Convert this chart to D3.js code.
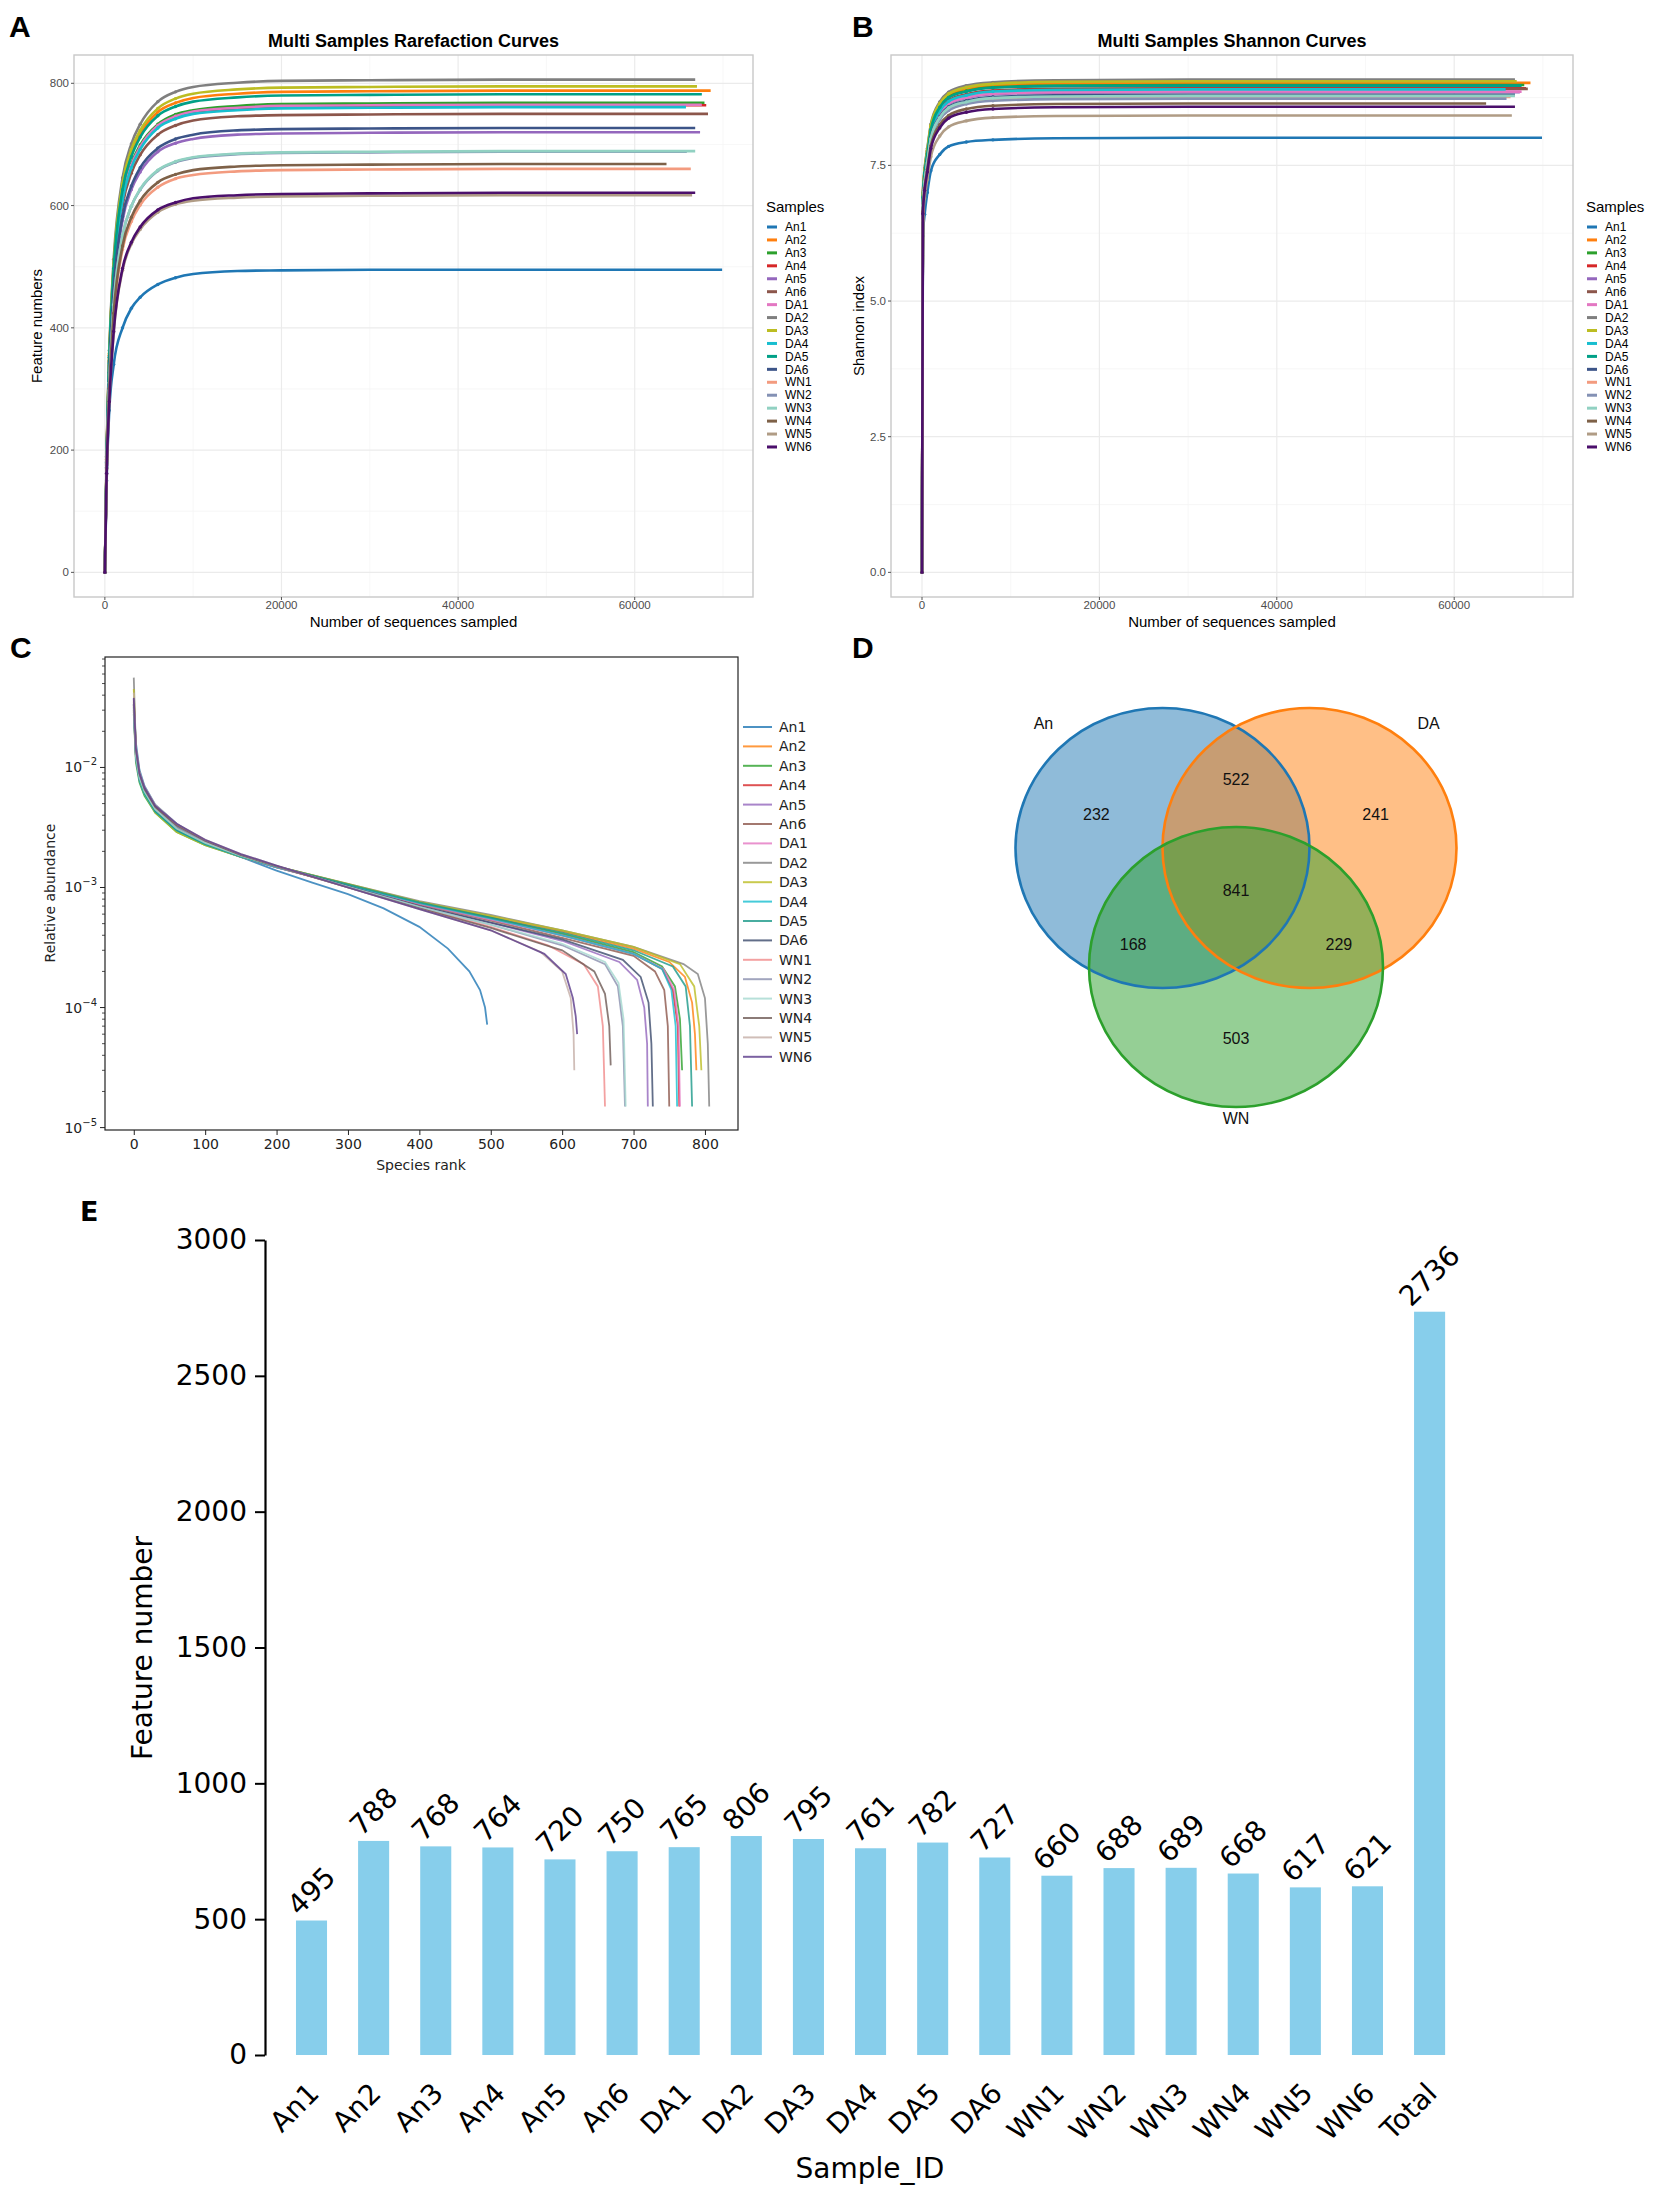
<!DOCTYPE html>
<html><head><meta charset="utf-8">
<script src="https://cdn.jsdelivr.net/npm/d3@7"></script>
<style>body{margin:0;background:#fff} svg{display:block}</style>
</head><body>
<svg id="fig" width="1654" height="2196"></svg>
<script>
// ---------------- DATA ----------------
const samples = ["An1","An2","An3","An4","An5","An6","DA1","DA2","DA3","DA4","DA5","DA6","WN1","WN2","WN3","WN4","WN5","WN6"];
const featureCounts = [495,788,768,764,720,750,765,806,795,761,782,727,660,688,689,668,617,621];
const barCategories = samples.concat(["Total"]);
const barValues = featureCounts.concat([2736]);

// Panel A: rarefaction (sequencing depths and observed feature numbers; last value at seqEnds)
const seqDepths = [0,200,500,1000,2000,3000,4000,6000,8000,10000,15000,20000,30000,45000];
const seqEnds = [69900,68600,67900,68100,67400,68300,67600,66850,67050,65800,67600,66850,66350,65900,66850,63600,66500,66850];
const rareValues = [
  [0,150,265,340,400,432,450,471,482,488,493,494,495,495,495],
  [0,185,355,500,630,686,717,753,768,776,783,786,787,788,788],
  [0,182,346,488,614,668,699,733,749,756,763,766,767,768,768],
  [0,181,344,485,611,665,695,730,745,753,759,762,763,764,764],
  [0,175,324,457,576,626,655,688,702,709,716,718,719,720,720],
  [0,178,338,476,600,653,683,716,731,739,746,748,749,750,750],
  [0,181,344,486,612,666,696,731,746,754,760,763,764,765,765],
  [0,190,363,512,645,701,733,770,786,794,801,804,805,806,806],
  [0,188,358,505,636,692,723,759,775,783,790,793,794,795,795],
  [0,180,342,483,609,662,692,727,742,750,756,759,760,761,761],
  [0,184,352,497,626,680,712,747,762,770,777,780,781,782,782],
  [0,176,327,462,582,632,662,694,709,716,723,725,726,727,727],
  [0,168,297,419,528,574,601,630,644,650,656,658,659,660,660],
  [0,172,310,437,550,599,626,657,671,678,684,686,687,688,688],
  [0,172,310,438,551,599,627,658,672,679,685,687,688,689,689],
  [0,170,301,424,534,581,608,638,651,658,664,666,667,668,668],
  [0,160,278,392,494,537,561,589,602,608,613,615,616,617,617],
  [0,162,279,394,497,540,565,593,605,612,617,619,620,621,621]
];

// Panel B: Shannon index
const shannonDepths = [0,100,300,600,1000,2000,3000,5000,8000,15000,30000,50000];
const shannonValues = [
  [0,6.20,6.60,7.00,7.40,7.70,7.85,7.93,7.97,8.00,8.01,8.01,8.01],
  [0,6.95,7.40,7.76,8.21,8.61,8.79,8.91,8.97,9.01,9.02,9.02,9.02],
  [0,6.91,7.36,7.72,8.17,8.58,8.76,8.87,8.94,8.97,8.98,8.98,8.98],
  [0,6.87,7.31,7.67,8.12,8.52,8.70,8.81,8.88,8.91,8.92,8.92,8.92],
  [0,6.81,7.26,7.61,8.05,8.45,8.63,8.74,8.81,8.84,8.85,8.85,8.85],
  [0,6.86,7.31,7.66,8.11,8.51,8.69,8.80,8.87,8.90,8.91,8.91,8.91],
  [0,6.82,7.27,7.62,8.06,8.46,8.64,8.75,8.82,8.85,8.86,8.86,8.86],
  [0,6.99,7.45,7.81,8.26,8.67,8.85,8.97,9.03,9.07,9.08,9.08,9.08],
  [0,6.97,7.42,7.78,8.24,8.64,8.82,8.94,9.00,9.04,9.05,9.05,9.05],
  [0,6.85,7.30,7.65,8.10,8.50,8.68,8.79,8.86,8.89,8.90,8.90,8.90],
  [0,6.91,7.36,7.71,8.16,8.57,8.75,8.86,8.93,8.96,8.97,8.97,8.97],
  [0,6.78,7.22,7.57,8.01,8.40,8.58,8.69,8.76,8.79,8.80,8.80,8.80],
  [0,6.75,7.18,7.53,7.97,8.37,8.54,8.65,8.72,8.75,8.76,8.76,8.76],
  [0,6.72,7.16,7.51,7.94,8.34,8.51,8.63,8.69,8.72,8.73,8.73,8.73],
  [0,6.76,7.20,7.55,7.99,8.38,8.56,8.67,8.74,8.77,8.78,8.78,8.78],
  [0,6.65,7.08,7.43,7.86,8.25,8.42,8.54,8.60,8.63,8.64,8.64,8.64],
  [0,6.48,6.90,7.24,7.66,8.04,8.21,8.32,8.38,8.41,8.42,8.42,8.42],
  [0,6.61,7.04,7.38,7.81,8.19,8.37,8.48,8.54,8.57,8.58,8.58,8.58]
];

// Panel C: rank-abundance [rank, relative abundance]
const rankAbundance = [
  [[0,3.4e-2],[3,1.6e-2],[8,9.5e-3],[15,7.0e-3],[30,4.9e-3],[60,3.4e-3],[100,2.4e-3],[150,1.8e-3],[200,1.38e-3],[250,1.1e-3],[300,8.8e-4],[350,6.7e-4],[400,4.7e-4],[440,3.1e-4],[470,2.0e-4],[485,1.4e-4],[492,1.0e-4],[495,7.2e-5]],
  [[0,3.0e-2],[3,1.2e-2],[8,7.8e-3],[15,6.0e-3],[30,4.3e-3],[60,3.0e-3],[100,2.3e-3],[150,1.82e-3],[200,1.5e-3],[300,1.06e-3],[400,7.5e-4],[500,5.7e-4],[600,4.3e-4],[700,3.1e-4],[750,2.4e-4],[772,1.8e-4],[782,1.1e-4],[786,6e-5],[788,3e-5]],
  [[0,2.8e-2],[3,1.1e-2],[8,7.5e-3],[15,5.8e-3],[30,4.2e-3],[60,2.9e-3],[100,2.25e-3],[150,1.8e-3],[200,1.48e-3],[300,1.04e-3],[400,7.4e-4],[500,5.6e-4],[600,4.1e-4],[700,2.9e-4],[740,2.2e-4],[758,1.5e-4],[765,8e-5],[768,3e-5]],
  [[0,3.3e-2],[3,1.3e-2],[8,8e-3],[15,6.2e-3],[30,4.4e-3],[60,3.1e-3],[100,2.3e-3],[150,1.8e-3],[200,1.47e-3],[300,1.03e-3],[400,7.3e-4],[500,5.5e-4],[600,4.0e-4],[700,2.8e-4],[740,2.1e-4],[755,1.4e-4],[762,7e-5],[764,1.5e-5]],
  [[0,3.1e-2],[3,1.25e-2],[8,8.2e-3],[15,6.4e-3],[30,4.6e-3],[60,3.2e-3],[100,2.4e-3],[150,1.85e-3],[200,1.5e-3],[300,1.02e-3],[400,7.0e-4],[500,5.1e-4],[600,3.6e-4],[680,2.4e-4],[705,1.7e-4],[715,1.0e-4],[719,5e-5],[720,1.5e-5]],
  [[0,3.5e-2],[3,1.3e-2],[8,8.3e-3],[15,6.3e-3],[30,4.5e-3],[60,3.1e-3],[100,2.35e-3],[150,1.82e-3],[200,1.48e-3],[300,1.03e-3],[400,7.2e-4],[500,5.3e-4],[600,3.8e-4],[700,2.7e-4],[730,2.0e-4],[743,1.4e-4],[748,7e-5],[750,1.5e-5]],
  [[0,2.9e-2],[3,1.2e-2],[8,7.9e-3],[15,6.1e-3],[30,4.3e-3],[60,3.0e-3],[100,2.3e-3],[150,1.8e-3],[200,1.47e-3],[300,1.03e-3],[400,7.3e-4],[500,5.4e-4],[600,4.0e-4],[700,2.8e-4],[742,2.1e-4],[757,1.4e-4],[763,7e-5],[765,1.5e-5]],
  [[0,5.6e-2],[3,1.4e-2],[8,8.4e-3],[15,6.2e-3],[30,4.3e-3],[60,3.0e-3],[100,2.3e-3],[150,1.82e-3],[200,1.5e-3],[300,1.07e-3],[400,7.7e-4],[500,5.9e-4],[600,4.4e-4],[700,3.2e-4],[770,2.3e-4],[790,1.9e-4],[800,1.2e-4],[804,5e-5],[806,1.5e-5]],
  [[0,4.5e-2],[3,1.3e-2],[8,8e-3],[15,6e-3],[30,4.2e-3],[60,2.9e-3],[100,2.25e-3],[150,1.8e-3],[200,1.5e-3],[300,1.07e-3],[400,7.6e-4],[500,5.8e-4],[600,4.4e-4],[700,3.2e-4],[765,2.3e-4],[785,1.5e-4],[792,7e-5],[795,3e-5]],
  [[0,3.0e-2],[3,1.2e-2],[8,7.8e-3],[15,6.0e-3],[30,4.3e-3],[60,3.0e-3],[100,2.3e-3],[150,1.8e-3],[200,1.47e-3],[300,1.04e-3],[400,7.4e-4],[500,5.5e-4],[600,4.0e-4],[700,2.8e-4],[740,2.1e-4],[753,1.4e-4],[759,7e-5],[761,1.5e-5]],
  [[0,3.2e-2],[3,1.25e-2],[8,8e-3],[15,6.1e-3],[30,4.3e-3],[60,3.0e-3],[100,2.3e-3],[150,1.82e-3],[200,1.5e-3],[300,1.06e-3],[400,7.5e-4],[500,5.6e-4],[600,4.2e-4],[700,3.0e-4],[755,2.2e-4],[773,1.5e-4],[779,7e-5],[782,1.5e-5]],
  [[0,3.4e-2],[3,1.35e-2],[8,8.6e-3],[15,6.5e-3],[30,4.6e-3],[60,3.2e-3],[100,2.4e-3],[150,1.85e-3],[200,1.5e-3],[300,1.02e-3],[400,7.0e-4],[500,5.1e-4],[600,3.7e-4],[685,2.5e-4],[710,1.8e-4],[721,1.1e-4],[725,5e-5],[727,1.5e-5]],
  [[0,3.6e-2],[3,1.4e-2],[8,8.8e-3],[15,6.6e-3],[30,4.7e-3],[60,3.3e-3],[100,2.4e-3],[150,1.85e-3],[200,1.5e-3],[300,1.0e-3],[400,6.8e-4],[500,4.7e-4],[580,3.3e-4],[630,2.3e-4],[650,1.5e-4],[657,7e-5],[660,1.5e-5]],
  [[0,3.3e-2],[3,1.3e-2],[8,8.4e-3],[15,6.4e-3],[30,4.5e-3],[60,3.2e-3],[100,2.4e-3],[150,1.85e-3],[200,1.5e-3],[300,1.01e-3],[400,6.9e-4],[500,4.9e-4],[600,3.3e-4],[660,2.3e-4],[678,1.5e-4],[685,7e-5],[688,1.5e-5]],
  [[0,3.1e-2],[3,1.25e-2],[8,8.2e-3],[15,6.3e-3],[30,4.5e-3],[60,3.1e-3],[100,2.35e-3],[150,1.83e-3],[200,1.5e-3],[300,1.01e-3],[400,6.9e-4],[500,4.9e-4],[600,3.4e-4],[660,2.4e-4],[679,1.6e-4],[686,8e-5],[689,1.5e-5]],
  [[0,3.7e-2],[3,1.4e-2],[8,8.8e-3],[15,6.6e-3],[30,4.7e-3],[60,3.3e-3],[100,2.45e-3],[150,1.86e-3],[200,1.5e-3],[300,1.0e-3],[400,6.7e-4],[500,4.6e-4],[600,3.0e-4],[645,2.0e-4],[660,1.3e-4],[666,7e-5],[668,3.3e-5]],
  [[0,4.2e-2],[3,1.5e-2],[8,9.2e-3],[15,6.9e-3],[30,4.9e-3],[60,3.4e-3],[100,2.5e-3],[150,1.9e-3],[200,1.52e-3],[300,1.0e-3],[400,6.6e-4],[500,4.4e-4],[570,2.9e-4],[600,2.0e-4],[612,1.2e-4],[616,6e-5],[617,3e-5]],
  [[0,3.8e-2],[3,1.45e-2],[8,9e-3],[15,6.8e-3],[30,4.8e-3],[60,3.4e-3],[100,2.5e-3],[150,1.9e-3],[200,1.52e-3],[300,1.0e-3],[400,6.6e-4],[500,4.4e-4],[575,2.8e-4],[605,1.9e-4],[615,1.2e-4],[619,8.5e-5],[621,6e-5]]
];

// Panel D: Venn
const vennSets = ["An","DA","WN"];
const vennRegions = ["An","DA","WN","An&DA","An&WN","DA&WN","An&DA&WN"];
const vennValues = [232,241,503,522,168,229,841];

// tick labels
const rareXTicks = [0,20000,40000,60000];
const rareYTicks = [0,200,400,600,800];
const shannonYTicks = [0,2.5,5.0,7.5];
const rankXTicks = [0,100,200,300,400,500,600,700,800];
const rankYTicks = [1e-5,1e-4,1e-3,1e-2];
const barYTicks = [0,500,1000,1500,2000,2500,3000];

// colours
const palA = ["#1f77b4","#ff7f0e","#2ca02c","#d62728","#9467bd","#8c564b","#e377c2","#7f7f7f","#bcbd22","#17becf","#00a087","#3c5488","#f39b7f","#8491b4","#91d1c2","#7e6148","#b09c85","#4b0f6b"];
const palC = ["#1f77b4","#ff7f0e","#2ca02c","#d62728","#9467bd","#8c564b","#e377c2","#7f7f7f","#bcbd22","#17becf","#1a9988","#3b4a6b","#f08a8a","#8a8fae","#a5d8d0","#6e5a55","#c4aea6","#5a3a8a"];
const vennColors = ["#1f77b4","#ff7f0e","#2ca02c"];

// ---------------- DRAW ----------------
const svg = d3.select("#fig");
svg.append("rect").attr("width",1654).attr("height",2196).attr("fill","#fff");
const SANS = "'Liberation Sans', Arial, Helvetica, sans-serif";
const DEJA = "'DejaVu Sans', Verdana, sans-serif";

function letter(t, x, y, size, fam){
  svg.append("text").attr("x",x).attr("y",y).attr("font-family",fam||SANS)
    .attr("font-weight","bold").attr("font-size",size).attr("fill","#000").text(t);
}
letter("A", 9, 37, 30);
letter("B", 852, 37, 30);
letter("C", 10, 658, 30);
letter("D", 852, 658, 30);
letter("E", 80, 1221, 27, DEJA);

function curvePanel(o){
  const g = svg.append("g");
  const x = d3.scaleLinear().domain([-3495,73395]).range([o.x0,o.x1]);
  const y = d3.scaleLinear().domain(o.yDomain).range([o.y1,o.y0]);
  g.append("rect").attr("x",o.x0).attr("y",o.y0).attr("width",o.x1-o.x0).attr("height",o.y1-o.y0).attr("fill","#fff");
  // grid
  g.selectAll(null).data([10000,30000,50000,70000]).join("line")
    .attr("x1",d=>x(d)).attr("x2",d=>x(d)).attr("y1",o.y0).attr("y2",o.y1).attr("stroke","#f4f4f4").attr("stroke-width",0.7);
  g.selectAll(null).data(o.yMinor).join("line")
    .attr("y1",d=>y(d)).attr("y2",d=>y(d)).attr("x1",o.x0).attr("x2",o.x1).attr("stroke","#f4f4f4").attr("stroke-width",0.7);
  g.selectAll(null).data(rareXTicks).join("line")
    .attr("x1",d=>x(d)).attr("x2",d=>x(d)).attr("y1",o.y0).attr("y2",o.y1).attr("stroke","#ebebeb").attr("stroke-width",1.2);
  g.selectAll(null).data(o.yTicks).join("line")
    .attr("y1",d=>y(d)).attr("y2",d=>y(d)).attr("x1",o.x0).attr("x2",o.x1).attr("stroke","#ebebeb").attr("stroke-width",1.2);
  // curves
  const line = d3.line().x(d=>x(d[0])).y(d=>y(d[1])).curve(d3.curveMonotoneX);
  samples.forEach((s,i)=>{
    const vals = o.values[i];
    const pts = o.depths.map((d,j)=>[d, vals[j]]).concat([[seqEnds[i], vals[vals.length-1]]]);
    g.append("path").attr("d",line(pts)).attr("fill","none").attr("stroke",palA[i]).attr("stroke-width",2.6);
    g.selectAll(null).data(pts.filter(p=>p[0]<=8000)).join("circle")
      .attr("cx",p=>x(p[0])).attr("cy",p=>y(p[1])).attr("r",1.7).attr("fill",palA[i]);
  });
  // border
  g.append("rect").attr("x",o.x0).attr("y",o.y0).attr("width",o.x1-o.x0).attr("height",o.y1-o.y0)
    .attr("fill","none").attr("stroke","#c8c8c8").attr("stroke-width",1.4);
  // ticks
  g.selectAll(null).data(rareXTicks).join("line")
    .attr("x1",d=>x(d)).attr("x2",d=>x(d)).attr("y1",o.y1).attr("y2",o.y1+3).attr("stroke","#555").attr("stroke-width",1);
  g.selectAll(null).data(o.yTicks).join("line")
    .attr("y1",d=>y(d)).attr("y2",d=>y(d)).attr("x1",o.x0-3).attr("x2",o.x0).attr("stroke","#555").attr("stroke-width",1);
  g.selectAll(null).data(rareXTicks).join("text")
    .attr("x",d=>x(d)).attr("y",o.y1+12).attr("text-anchor","middle").attr("font-family",SANS).attr("font-size",11.5).attr("fill","#4d4d4d").text(d=>d);
  g.selectAll(null).data(o.yTicks).join("text")
    .attr("x",o.x0-5).attr("y",d=>y(d)).attr("dy","0.35em").attr("text-anchor","end").attr("font-family",SANS).attr("font-size",11.5).attr("fill","#4d4d4d").text(o.yFmt);
  // titles
  g.append("text").attr("x",(o.x0+o.x1)/2).attr("y",47).attr("text-anchor","middle").attr("font-family",SANS)
    .attr("font-weight","bold").attr("font-size",18).attr("fill","#000").text(o.title);
  g.append("text").attr("x",(o.x0+o.x1)/2).attr("y",627).attr("text-anchor","middle").attr("font-family",SANS)
    .attr("font-size",15).attr("fill","#000").text("Number of sequences sampled");
  g.append("text").attr("transform",`translate(${o.yTitleX},${(o.y0+o.y1)/2}) rotate(-90)`).attr("text-anchor","middle")
    .attr("font-family",SANS).attr("font-size",15).attr("fill","#000").text(o.yTitle);
  // legend
  g.append("text").attr("x",o.legendX).attr("y",212).attr("font-family",SANS).attr("font-size",15).attr("fill","#000").text("Samples");
  samples.forEach((s,i)=>{
    const ly = 227 + 12.94*i;
    g.append("line").attr("x1",o.legendX+1).attr("x2",o.legendX+11).attr("y1",ly).attr("y2",ly).attr("stroke",palA[i]).attr("stroke-width",3);
    g.append("text").attr("x",o.legendX+19).attr("y",ly).attr("dy","0.35em").attr("font-family",SANS).attr("font-size",12).attr("fill","#000").text(s);
  });
}

curvePanel({x0:74,x1:753,y0:55,y1:597,yDomain:[-40.3,846.3],yTicks:rareYTicks,yMinor:[100,300,500,700],
  yFmt:d=>d,depths:seqDepths,values:rareValues,title:"Multi Samples Rarefaction Curves",yTitle:"Feature numbers",yTitleX:42,legendX:766});
curvePanel({x0:891,x1:1573,y0:55,y1:597,yDomain:[-0.454,9.534],yTicks:shannonYTicks,yMinor:[1.25,3.75,6.25,8.75],
  yFmt:d=>d.toFixed(1),depths:shannonDepths,values:shannonValues,title:"Multi Samples Shannon Curves",yTitle:"Shannon index",yTitleX:864,legendX:1586});

// ---------- Panel C ----------
(function(){
  const g = svg.append("g");
  const x = d3.scaleLinear().domain([-40.3,846.3]).range([105,738]);
  const y = d3.scaleLog().domain([Math.pow(10,-5.02), Math.pow(10,-1.08)]).range([1130,657]);
  const line = d3.line().x(d=>x(d[0])).y(d=>y(d[1]));
  rankAbundance.forEach((arr,i)=>{
    g.append("path").attr("d",line(arr)).attr("fill","none").attr("stroke",palC[i]).attr("stroke-opacity",0.8).attr("stroke-width",1.8);
  });
  g.append("rect").attr("x",105).attr("y",657).attr("width",633).attr("height",473).attr("fill","none").attr("stroke","#222").attr("stroke-width",1.2);
  const xa = g.append("g").attr("transform","translate(0,1130)").call(d3.axisBottom(x).tickValues(rankXTicks).tickSize(5).tickPadding(4).tickSizeOuter(0));
  xa.select(".domain").remove();
  xa.selectAll("text").attr("font-family",DEJA).attr("font-size",14).attr("fill","#222");
  xa.selectAll("line").attr("stroke","#222");
  const minor = y.ticks().filter(v=>rankYTicks.indexOf(v)<0 && Math.abs(Math.log10(v)-Math.round(Math.log10(v)))>1e-6);
  g.selectAll(null).data(minor).join("line").attr("x1",102).attr("x2",105).attr("y1",d=>y(d)).attr("y2",d=>y(d)).attr("stroke","#222").attr("stroke-width",0.8);
  g.selectAll(null).data(rankYTicks).join("line").attr("x1",100).attr("x2",105).attr("y1",d=>y(d)).attr("y2",d=>y(d)).attr("stroke","#222").attr("stroke-width",1);
  const yl = g.selectAll(null).data(rankYTicks).join("text").attr("x",97).attr("y",d=>y(d)+5).attr("text-anchor","end")
    .attr("font-family",DEJA).attr("font-size",14).attr("fill","#222");
  yl.append("tspan").text("10");
  yl.append("tspan").attr("dy",-7).attr("font-size",10).text(d=>"\u2212"+Math.round(-Math.log10(d)));
  g.append("text").attr("x",421).attr("y",1170).attr("text-anchor","middle").attr("font-family",DEJA).attr("font-size",14).attr("fill","#222").text("Species rank");
  g.append("text").attr("transform","translate(55,893) rotate(-90)").attr("text-anchor","middle").attr("font-family",DEJA).attr("font-size",14).attr("fill","#222").text("Relative abundance");
  samples.forEach((s,i)=>{
    const ly = 727 + 19.4*i;
    g.append("line").attr("x1",743).attr("x2",772).attr("y1",ly).attr("y2",ly).attr("stroke",palC[i]).attr("stroke-opacity",0.8).attr("stroke-width",2);
    g.append("text").attr("x",779).attr("y",ly).attr("dy","0.35em").attr("font-family",DEJA).attr("font-size",14).attr("fill","#222").text(s);
  });
})();

// ---------- Panel D ----------
(function(){
  const g = svg.append("g");
  const vx = d3.scaleLinear().domain([-1,1]).range([1236-147,1236+147]);
  const vy = d3.scaleLinear().domain([-1,1]).range([890-140,890+140]);
  const centers = [[-0.5,-0.3],[0.5,-0.3],[0,0.55]];
  centers.forEach((c,i)=>{
    g.append("ellipse").attr("cx",vx(c[0])).attr("cy",vy(c[1])).attr("rx",vx(1)-vx(0)).attr("ry",vy(1)-vy(0))
      .attr("fill",vennColors[i]).attr("fill-opacity",0.5);
  });
  centers.forEach((c,i)=>{
    g.append("ellipse").attr("cx",vx(c[0])).attr("cy",vy(c[1])).attr("rx",vx(1)-vx(0)).attr("ry",vy(1)-vy(0))
      .attr("fill","none").attr("stroke",vennColors[i]).attr("stroke-width",2.6);
  });
  const labelPos = [[-1.31,-1.19],[1.31,-1.19],[0,1.63]];
  vennSets.forEach((s,i)=>{
    g.append("text").attr("x",vx(labelPos[i][0])).attr("y",vy(labelPos[i][1])).attr("dy","0.35em").attr("text-anchor","middle")
      .attr("font-family",SANS).attr("font-size",16).attr("fill","#111").text(s);
  });
  const regionPos = [[-0.95,-0.54],[0.95,-0.54],[0,1.057],[0,-0.79],[-0.70,0.386],[0.70,0.386],[0,0]];
  vennValues.forEach((v,i)=>{
    g.append("text").attr("x",vx(regionPos[i][0])).attr("y",vy(regionPos[i][1])).attr("dy","0.35em").attr("text-anchor","middle")
      .attr("font-family",SANS).attr("font-size",16).attr("fill","#111").text(v);
  });
})();

// ---------- Panel E ----------
(function(){
  const g = svg.append("g");
  const x = d3.scaleBand().domain(barCategories).range([280.45,1460.65]).paddingInner(0.5).paddingOuter(0.25);
  const y = d3.scaleLinear().domain([0,3000]).range([2055,1240]);
  g.selectAll(null).data(barCategories).join("rect")
    .attr("x",d=>x(d)).attr("width",x.bandwidth()).attr("y",(d,i)=>y(barValues[i])).attr("height",(d,i)=>y(0)-y(barValues[i]))
    .attr("fill","#87ceeb");
  const ya = g.append("g").attr("transform","translate(265,0)").call(d3.axisLeft(y).tickValues(barYTicks).tickFormat(d3.format("d")).tickSize(10).tickPadding(8).tickSizeOuter(0));
  ya.select(".domain").attr("stroke","#000").attr("stroke-width",2.2);
  ya.selectAll("line").attr("stroke","#000").attr("stroke-width",2);
  ya.selectAll("text").attr("font-family",DEJA).attr("font-size",28).attr("fill","#000");
  // value labels
  const vl = g.selectAll(null).data(barCategories).join("text")
    .attr("text-anchor","middle").attr("dominant-baseline","central")
    .attr("font-family",DEJA).attr("font-size",28).attr("fill","#000").text((d,i)=>barValues[i]);
  vl.each(function(d,i){
    const w = this.getComputedTextLength();
    const off = (w + 30) / (2*Math.SQRT2);
    const cx = x(d) + x.bandwidth()/2;
    d3.select(this).attr("transform",`translate(${cx},${y(barValues[i]) - off}) rotate(-45)`);
  });
  // x tick labels
  g.selectAll(null).data(barCategories).join("text")
    .attr("transform",d=>`translate(${x(d)+x.bandwidth()/2+9},2095) rotate(-45)`)
    .attr("text-anchor","end").attr("font-family",DEJA).attr("font-size",28).attr("fill","#000").text(d=>d);
  g.append("text").attr("x",870).attr("y",2178).attr("text-anchor","middle").attr("font-family",DEJA).attr("font-size",28).attr("fill","#000").text("Sample_ID");
  g.append("text").attr("transform","translate(152,1648) rotate(-90)").attr("text-anchor","middle").attr("font-family",DEJA).attr("font-size",28).attr("fill","#000").text("Feature number");
})();
</script>
</body></html>
